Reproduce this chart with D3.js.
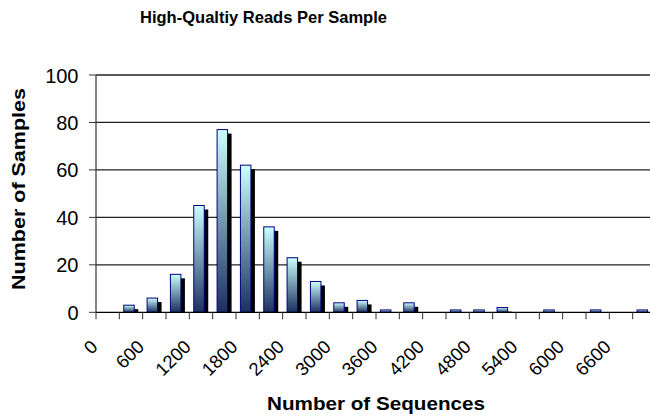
<!DOCTYPE html>
<html>
<head>
<meta charset="utf-8">
<script src="https://cdn.jsdelivr.net/npm/d3@7"></script>
<style>
  html, body { margin: 0; padding: 0; background: #fff; }
  svg { display: block; font-family: "Liberation Sans", Arial, sans-serif; }
</style>
</head>
<body>
<script>
// ---- data ----
const categories = [0, 300, 600, 900, 1200, 1500, 1800, 2100, 2400, 2700, 3000, 3300,
                    3600, 3900, 4200, 4500, 4800, 5100, 5400, 5700, 6000, 6300, 6600, 6900];
const counts     = [0, 3, 6, 16, 45, 77, 62, 36, 23, 13, 4, 5,
                    1, 4, 0, 1, 1, 2, 0, 1, 0, 1, 0, 1];
const xTickLabels = [0, 600, 1200, 1800, 2400, 3000, 3600, 4200, 4800, 5400, 6000, 6600];
const yTicks = [0, 20, 40, 60, 80, 100];
const titleText = "High-Qualtiy Reads Per Sample";
const xTitle = "Number of Sequences";
const yTitle = "Number of Samples";

// ---- layout ----
const W = 650, H = 419;
const plot = { left: 96, right: 656, top: 75, bottom: 312.3 };

const svg = d3.select("body").append("svg").attr("width", W).attr("height", H);

const defs = svg.append("defs");
const grad = defs.append("linearGradient").attr("id", "barGrad")
  .attr("x1", 0).attr("y1", 0).attr("x2", 0).attr("y2", 1);
grad.append("stop").attr("offset", "0%").attr("stop-color", "#ccffff");
grad.append("stop").attr("offset", "100%").attr("stop-color", "#1a2f5e");

const x = d3.scaleBand().domain(categories).range([plot.left, plot.right]).padding(0);
const y = d3.scaleLinear().domain([0, 100]).range([plot.bottom, plot.top]);

// gridlines
svg.append("g").selectAll("line").data(yTicks.filter(d => d > 0)).join("line")
  .attr("x1", plot.left).attr("x2", plot.right)
  .attr("y1", d => y(d)).attr("y2", d => y(d))
  .attr("stroke", "#222").attr("stroke-width", 1.3);

// bars
const bw = x.bandwidth() * 0.45;
const sh = 4;
const g = svg.append("g");
const bars = categories.map((c, i) => ({ c, v: counts[i] })).filter(d => d.v > 0);
g.selectAll("rect.shadow").data(bars).join("rect").attr("class", "shadow")
  .attr("x", d => x(d.c) + x.bandwidth() / 2 - (bw + sh) / 2 + sh)
  .attr("y", d => y(d.v) + sh)
  .attr("width", bw)
  .attr("height", d => Math.max(0, y(0) - y(d.v) - sh))
  .attr("fill", "#000");
g.selectAll("rect.bar").data(bars).join("rect").attr("class", "bar")
  .attr("x", d => x(d.c) + x.bandwidth() / 2 - (bw + sh) / 2)
  .attr("y", d => y(d.v))
  .attr("width", bw)
  .attr("height", d => y(0) - y(d.v))
  .attr("fill", "url(#barGrad)")
  .attr("stroke", "#000080").attr("stroke-width", 1);

// y axis
const yAxis = svg.append("g");
yAxis.append("line").attr("x1", plot.left).attr("x2", plot.left)
  .attr("y1", plot.top).attr("y2", plot.bottom).attr("stroke", "#333").attr("stroke-width", 1.2);
yAxis.selectAll("line.tk").data(yTicks).join("line").attr("class", "tk")
  .attr("x1", plot.left - 7).attr("x2", plot.left)
  .attr("y1", d => y(d)).attr("y2", d => y(d)).attr("stroke", "#333");
yAxis.selectAll("text").data(yTicks).join("text")
  .attr("x", 78.5).attr("y", d => y(d) + 7.5)
  .attr("text-anchor", "end").attr("font-size", 20).attr("fill", "#000")
  .text(d => d);

// x axis
const xAxis = svg.append("g");
xAxis.append("line").attr("x1", plot.left).attr("x2", plot.right)
  .attr("y1", plot.bottom).attr("y2", plot.bottom).attr("stroke", "#000").attr("stroke-width", 1.2);
const bounds = categories.map(c => x(c)).concat([plot.right]);
xAxis.selectAll("line.tk").data(bounds).join("line").attr("class", "tk")
  .attr("x1", d => d).attr("x2", d => d)
  .attr("y1", plot.bottom).attr("y2", plot.bottom + 7).attr("stroke", "#333");
xAxis.selectAll("text").data(xTickLabels).join("text")
  .attr("transform", d => `translate(${x(d) + x.bandwidth() / 2 - 9},${348}) rotate(-45)`)
  .attr("text-anchor", "end").attr("font-size", 18.5).attr("fill", "#000")
  .text(d => d);

// titles
svg.append("text").attr("x", 263.5).attr("y", 22.5).attr("text-anchor", "middle")
  .attr("font-size", 16.5).attr("font-weight", "bold")
  .attr("textLength", 247).attr("lengthAdjust", "spacingAndGlyphs").text(titleText);
svg.append("text").attr("x", 376).attr("y", 410).attr("text-anchor", "middle")
  .attr("font-size", 18).attr("font-weight", "bold")
  .attr("textLength", 218).attr("lengthAdjust", "spacingAndGlyphs").text(xTitle);
svg.append("text").attr("transform", "translate(25,189) rotate(-90)").attr("text-anchor", "middle")
  .attr("font-size", 18).attr("font-weight", "bold")
  .attr("textLength", 202).attr("lengthAdjust", "spacingAndGlyphs").text(yTitle);
</script>
</body>
</html>
